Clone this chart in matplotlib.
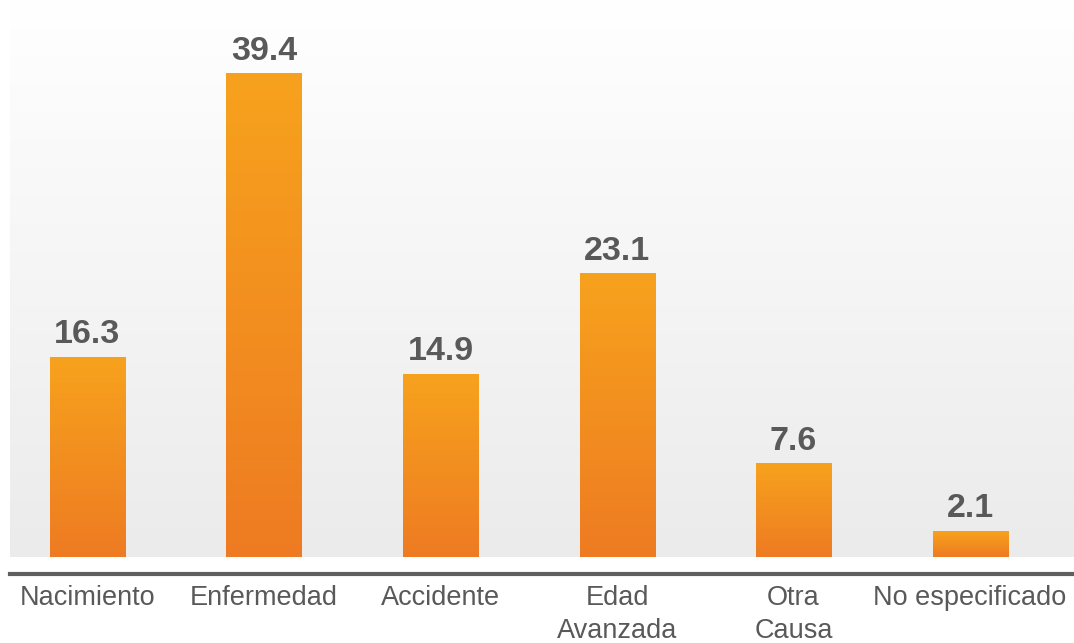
import matplotlib.pyplot as plt
import numpy as np
from matplotlib.colors import LinearSegmentedColormap

categories = ["Nacimiento", "Enfermedad", "Accidente", "Edad\nAvanzada", "Otra\nCausa", "No especificado"]
values = [16.3, 39.4, 14.9, 23.1, 7.6, 2.1]

plt.rcParams['font.family'] = ['Liberation Sans', 'DejaVu Sans']
text_color = '#595959'

fig = plt.figure(figsize=(10.74, 6.43), dpi=100)
ax = fig.add_axes([10 / 1074, 1 - 557 / 643, 1064 / 1074, 557 / 643])

x = np.arange(len(categories))
ax.set_xlim(-0.439, 5.589)
ax.set_ylim(0, 45.4)

# background gradient (white at top, light grey at bottom)
bg = LinearSegmentedColormap.from_list('bg', ['#ebebeb', '#ffffff'])
grad = np.linspace(0, 1, 256).reshape(-1, 1)
ax.imshow(grad, cmap=bg, origin='lower', aspect='auto',
          extent=(-0.439, 5.589, 0, 45.4), zorder=0)

# bars with vertical orange gradient
bar_cmap = LinearSegmentedColormap.from_list('bar', ['#ee7b22', '#f7a21d'])
width = 0.425
for xi, v in zip(x, values):
    ax.imshow(grad, cmap=bar_cmap, origin='lower', aspect='auto',
              extent=(xi - width / 2, xi + width / 2, 0, v), zorder=2)
    ax.text(xi, v + 0.55, f"{v:.1f}", ha='center', va='bottom',
            fontsize=24.5, fontweight='bold', color=text_color)

ax.set_xlim(-0.439, 5.589)
ax.set_ylim(0, 45.4)

for s in ['top', 'right', 'left']:
    ax.spines[s].set_visible(False)
ax.spines['bottom'].set_position(('outward', 12))
ax.spines['bottom'].set_color('#5f5f5f')
ax.spines['bottom'].set_linewidth(3)

ax.set_yticks([])
ax.set_xticks(x)
ax.set_xticklabels(categories, fontsize=19.5, color=text_color, linespacing=1.35)
ax.tick_params(axis='x', length=0, pad=8)

fig.savefig('out.png', dpi=100)
